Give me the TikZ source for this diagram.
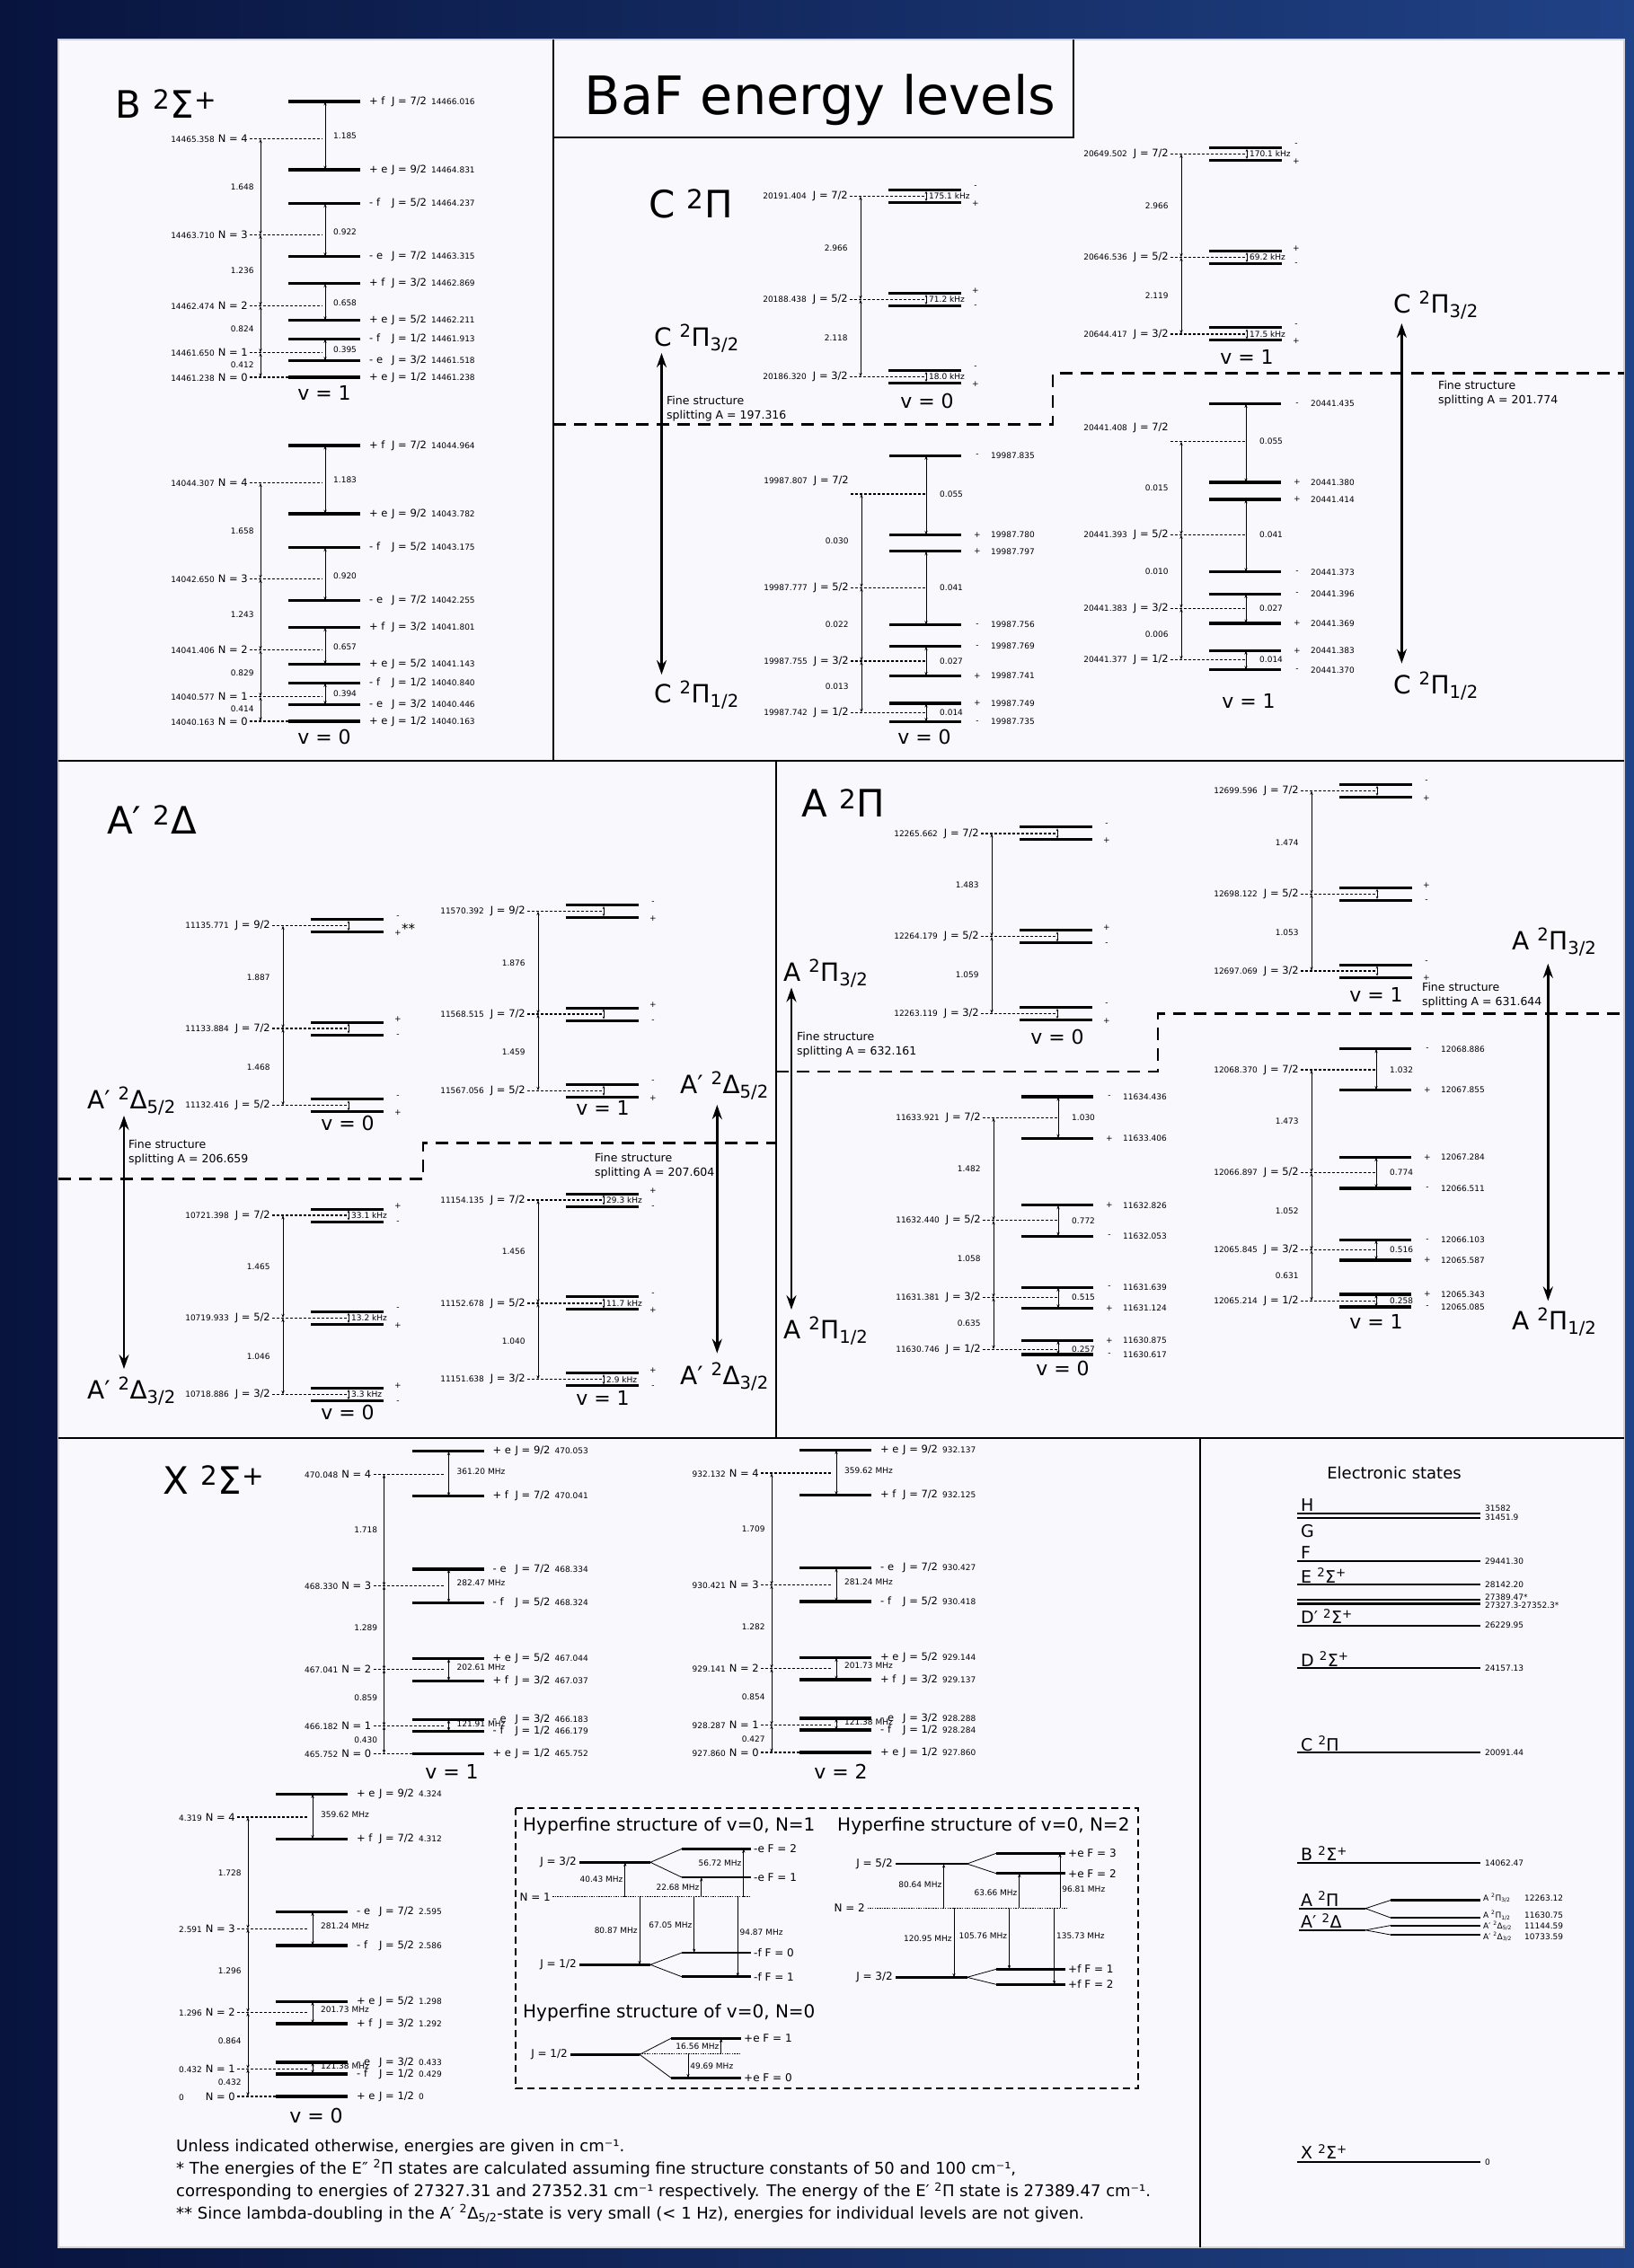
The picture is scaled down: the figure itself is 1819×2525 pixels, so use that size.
\documentclass[tikz,border=0pt]{standalone}
\usepackage{fontspec}
\setmainfont{DejaVu Sans}
\usetikzlibrary{arrows.meta,positioning}
\definecolor{pagebg}{RGB}{249,249,253}
\definecolor{nightblue}{RGB}{8,20,62}
\definecolor{duskblue}{RGB}{32,66,134}
\definecolor{rimgray}{RGB}{208,208,216}

\newcommand\numfont{\fontsize{9}{10}\selectfont}
\newcommand\supTwo{\textsuperscript{2}}

% 2Sigma ladder: #1 origin, #2 rungs, #3 N levels, #4 left splittings, #5 right splittings
\newcommand\sigmaladder[5]{%
  \begin{scope}[shift={#1}]
    \foreach \y/\pe/\jj/\en in {#2}{
      \draw[rung] (0,\y) -- (80,\y);
      \node[lab, anchor=west] at (90,\y) {\makebox[25pt][l]{\pe}J = \jj/2\hspace{5pt}{\numfont\en}};
    }
    \foreach \y/\en/\nn/\xe in {#3}{
      \draw[nline] (-43,\y) -- (\xe,\y);
      \node[lab, anchor=east] at (-45,\y) {{\numfont\en}\hspace{4pt}N = \nn};
    }
    \foreach \ya/\yb/\val in {#4}
      \draw[split] (-31,\ya) -- node[num, left=7pt] {\val} (-31,\yb);
    \foreach \ya/\yb/\yl/\val in {#5}{
      \draw[split] (41,\ya) -- (41,\yb);
      \node[num, anchor=west] at (50,\yl-3) {\val};
    }
  \end{scope}}

% Omega = 3/2 ladder, small lambda doubling: #1 x origin, #2 J levels, #3 splittings
\newcommand\piupper[3]{%
  \begin{scope}[shift={(#1,0)}]
    \foreach \y/\en/\jj/\hz/\ptop/\pbot in {#2}{
      \draw[drung] (0,\y-7) -- (81,\y-7) (0,\y+7) -- (81,\y+7);
      \draw[nline] (-43,\y) -- (40,\y);
      \draw[ldarrow] (42,\y-5.5) -- (42,\y+5.5);
      \node[num, anchor=west] at (45,\y) {\hz};
      \node[num] at (97,\y-10) {\ptop};
      \node[num] at (97,\y+8) {\pbot};
      \node[lab, anchor=east] at (-45,\y) {{\numfont\en}\hspace{7pt}J = \jj/2};
    }
    \foreach \ya/\yb/\val in {#3}
      \draw[split] (-31,\ya) -- node[num, left=14pt] {\val} (-31,\yb);
  \end{scope}}

% Omega = 1/2 ladder, large lambda doubling: #1 x origin, #2 rungs, #3 J levels, #4 left, #5 right
\newcommand\pilower[5]{%
  \begin{scope}[shift={(#1,0)}]
    \foreach \y/\pp/\en in {#2}{
      \draw[rung] (0,\y) -- (80,\y);
      \node[num] at (98,\y) {\pp};
      \node[num, anchor=west] at (113,\y) {\en};
    }
    \foreach \y/\en/\jj/\dl in {#3}{
      \draw[nline] (-43,\y) -- (40,\y);
      \node[lab, anchor=east] at (-45,\y-\dl) {{\numfont\en}\hspace{7pt}J = \jj/2};
    }
    \foreach \ya/\yb/\val in {#4}
      \draw[split] (-31,\ya) -- node[num, left=14pt] {\val} (-31,\yb);
    \foreach \ya/\yb/\yl/\val in {#5}{
      \draw[split] (41,\ya) -- (41,\yb);
      \node[num, anchor=west] at (56,\yl) {\val};
    }
  \end{scope}}

\begin{document}
\begin{tikzpicture}[x=1pt, y=-1pt,
  >={Stealth[length=4.5pt,width=3.2pt]},
  every node/.style={inner sep=0pt},
  lab/.style={font=\fontsize{11.5}{12}\selectfont},
  num/.style={font=\numfont},
  vlab/.style={font=\fontsize{22}{24}\selectfont},
  statetitle/.style={font=\fontsize{42}{44}\selectfont, anchor=base west},
  omega/.style={font=\fontsize{28}{30}\selectfont, anchor=base west},
  finetext/.style={font=\fontsize{12.5}{15.5}\selectfont, align=left, anchor=west},
  rung/.style={line width=3.3pt},
  drung/.style={line width=3pt},
  nline/.style={line width=1.3pt, dash pattern=on 3pt off 2pt},
  split/.style={<->, line width=0.8pt},
  ldarrow/.style={>={Stealth[length=3pt,width=2.6pt]}, <->, line width=0.7pt},
  bigarrow/.style={>={Stealth[length=16pt,width=11pt]}, <->, line width=2.4pt},
  rule/.style={line width=2.3pt},
  fsline/.style={line width=2.8pt, dash pattern=on 14pt off 9pt},
  estate/.style={line width=2.2pt},
  elab/.style={font=\fontsize{19}{20}\selectfont, anchor=base west},
  hfbox/.style={line width=1.8pt, dash pattern=on 8pt off 5pt},
  hftitle/.style={font=\fontsize{20}{21}\selectfont, anchor=west},
  hflab/.style={font=\fontsize{12}{13}\selectfont},
  hfrung/.style={line width=2.6pt},
  hfsplit/.style={line width=0.8pt},
  hfdot/.style={line width=1.5pt, dash pattern=on 1.5pt off 1.2pt},
  hfarrow/.style={->, line width=0.7pt},
  note/.style={font=\fontsize{18}{20}\selectfont, anchor=base west}
]
  \useasboundingbox (0,0) rectangle (1819,2525);

  % backdrop and panels
  \shade[left color=nightblue, right color=duskblue] (0,0) rectangle (1819,2525);
  \fill[pagebg] (65,44) rectangle (1808,2502);
  \draw[rimgray, line width=2.5pt] (65,44) rectangle (1808,2502);
  \draw[rule] (65,847) -- (1808,847) (616,44) -- (616,847)
              (616,153) -- (1195,153) -- (1195,44)
              (65,1601) -- (1808,1601) (864,847) -- (864,1601)
              (1336,1601) -- (1336,2502);
  \node[font=\fontsize{59}{60}\selectfont, anchor=base] (maintitle) at (913,127) {BaF energy levels};

  % B 2Sigma+
  \node[statetitle] (btitle) at (128,131) {B \supTwo Σ\textsuperscript{+}};
  \sigmaladder{(321,113)}
    {0/{+ f}/7/14466.016, 76/{+ e}/9/14464.831, 113.7/{- f}/5/14464.237, 172.7/{- e}/7/14463.315, 202.7/{+ f}/3/14462.869, 243.7/{+ e}/5/14462.211, 264.3/{- f}/1/14461.913, 288.7/{- e}/3/14461.518, 307/{+ e}/1/14461.238}
    {41.7/14465.358/4/38, 148.3/14463.710/3/38, 227.7/14462.474/2/38, 279.7/14461.650/1/38, 307/14461.238/0/0}
    {41.7/148.3/1.648, 148.3/227.7/1.236, 227.7/279.7/0.824, 279.7/307/0.412}
    {0/76/41.7/1.185, 113.7/172.7/148.3/0.922, 202.7/243.7/227.7/0.658, 264.3/288.7/279.7/0.395}
  \node[vlab] (bv1) at (361,437) {v = 1};
  \sigmaladder{(321,496)}
    {0/{+ f}/7/14044.964, 76/{+ e}/9/14043.782, 113.7/{- f}/5/14043.175, 172.7/{- e}/7/14042.255, 202.7/{+ f}/3/14041.801, 243.7/{+ e}/5/14041.143, 264.3/{- f}/1/14040.840, 288.7/{- e}/3/14040.446, 307/{+ e}/1/14040.163}
    {41.7/14044.307/4/38, 148.3/14042.650/3/38, 227.7/14041.406/2/38, 279.7/14040.577/1/38, 307/14040.163/0/0}
    {41.7/148.3/1.658, 148.3/227.7/1.243, 227.7/279.7/0.829, 279.7/307/0.414}
    {0/76/41.7/1.183, 113.7/172.7/148.3/0.920, 202.7/243.7/227.7/0.657, 264.3/288.7/279.7/0.394}
  \node[vlab] (bv0) at (361,820) {v = 0};

  % C 2Pi
  \node[statetitle] (ctitle) at (722,242) {C \supTwo Π};
  \piupper{989}
    {218.4/20191.404/7/{175.1 kHz}/-/+, 333.5/20188.438/5/{71.2 kHz}/+/-, 419.5/20186.320/3/{18.0 kHz}/-/+}
    {218.4/333.5/2.966, 333.5/419.5/2.118}
  \node[vlab] at (1032,446) {v = 0};
  \pilower{990}
    {507.4/-/19987.835, 595.4/+/19987.780, 613.8/+/19987.797, 695.6/-/19987.756, 719.7/-/19987.769, 752.4/+/19987.741, 783.1/+/19987.749, 803.6/-/19987.735}
    {549.9/19987.807/7/15, 654.2/19987.777/5/0, 736/19987.755/3/0, 793.3/19987.742/1/0}
    {549.9/654.2/0.030, 654.2/736/0.022, 736/793.3/0.013}
    {507.4/595.4/549.9/0.055, 613.8/695.6/654.2/0.041, 719.7/752.4/736/0.027, 783.1/803.6/793.3/0.014}
  \node[vlab] at (1029,820) {v = 0};
  \piupper{1346}
    {171.4/20649.502/7/{170.1 kHz}/-/+, 286.5/20646.536/5/{69.2 kHz}/+/-, 371.9/20644.417/3/{17.5 kHz}/-/+}
    {171.4/286.5/2.966, 286.5/371.9/2.119}
  \node[vlab] at (1388,397) {v = 1};
  \pilower{1346}
    {449.6/-/20441.435, 537/+/20441.380, 556/+/20441.414, 636.8/-/20441.373, 661.4/-/20441.396, 694/+/20441.369, 724.3/+/20441.383, 745.8/-/20441.370}
    {491.6/20441.408/7/15, 595.4/20441.393/5/0, 677.2/20441.383/3/0, 734.5/20441.377/1/0}
    {491.6/595.4/0.015, 595.4/677.2/0.010, 677.2/734.5/0.006}
    {449.6/537/491.6/0.055, 556/636.8/595.4/0.041, 661.4/694/677.2/0.027, 724.3/745.8/734.5/0.014}
  \node[vlab] at (1390,780) {v = 1};
  \node[omega] (c32l) at (728,385) {C \supTwo Π\textsubscript{3/2}};
  \node[omega] (c12l) at (728,782) {C \supTwo Π\textsubscript{1/2}};
  \draw[bigarrow] (736.5,393) -- (736.5,751);
  \node[finetext] at (742,455) {Fine structure\\splitting A = 197.316};
  \node[omega] (c32r) at (1551,348) {C \supTwo Π\textsubscript{3/2}};
  \node[omega] (c12r) at (1551,772) {C \supTwo Π\textsubscript{1/2}};
  \draw[bigarrow] (1560.4,360) -- (1560.4,738.6);
  \node[finetext] at (1601,438) {Fine structure\\splitting A = 201.774};
  \draw[fsline] (616,472.6) -- (1172,472.6) -- (1172,415.4) -- (1808,415.4);

  % A' 2Delta
  \node[statetitle] (adtitle) at (119,928) {A′ \supTwo Δ};
  \piupper{346}
    {1030.6/11135.771/9/{}/-/+, 1145/11133.884/7/{}/+/-, 1230.8/11132.416/5/{}/-/+}
    {1030.6/1145/1.887, 1145/1230.8/1.468}
  \node[font=\fontsize{15}{15}\selectfont, anchor=west] (dstar) at (447,1034) {**};
  \node[vlab] at (387,1250) {v = 0};
  \piupper{346}
    {1353/10721.398/7/{33.1 kHz}/+/-, 1467.3/10719.933/5/{13.2 kHz}/-/+, 1552.6/10718.886/3/{3.3 kHz}/+/-}
    {1353/1467.3/1.465, 1467.3/1552.6/1.046}
  \node[vlab] at (387,1572) {v = 0};
  \piupper{630}
    {1014.6/11570.392/9/{}/-/+, 1129/11568.515/7/{}/+/-, 1214.3/11567.056/5/{}/-/+}
    {1014.6/1129/1.876, 1129/1214.3/1.459}
  \node[vlab] at (671,1233) {v = 1};
  \piupper{630}
    {1336/11154.135/7/{29.3 kHz}/+/-, 1450.9/11152.678/5/{11.7 kHz}/-/+, 1535.7/11151.638/3/{2.9 kHz}/+/-}
    {1336/1450.9/1.456, 1450.9/1535.7/1.040}
  \node[vlab] at (671,1556) {v = 1};
  \node[omega] (d52l) at (97,1234) {A′ \supTwo Δ\textsubscript{5/2}};
  \node[omega] (d32l) at (97,1557) {A′ \supTwo Δ\textsubscript{3/2}};
  \draw[bigarrow] (138,1242) -- (138,1524);
  \node[finetext] at (143,1283) {Fine structure\\splitting A = 206.659};
  \node[omega] (d52r) at (757,1217) {A′ \supTwo Δ\textsubscript{5/2}};
  \node[omega] (d32r) at (757,1541) {A′ \supTwo Δ\textsubscript{3/2}};
  \draw[bigarrow] (798.3,1230) -- (798.3,1506.6);
  \node[finetext] at (662,1298) {Fine structure\\splitting A = 207.604};
  \draw[fsline] (65,1312.7) -- (471,1312.7) -- (471,1272.5) -- (864,1272.5);

  % A 2Pi
  \node[statetitle] (atitle) at (892,909.5) {A \supTwo Π};
  \piupper{1135}
    {927.9/12265.662/7/{}/-/+, 1042.8/12264.179/5/{}/+/-, 1128.5/12263.119/3/{}/-/+}
    {927.9/1042.8/1.483, 1042.8/1128.5/1.059}
  \node[vlab] at (1177,1154) {v = 0};
  \pilower{1137}
    {1221/-/11634.436, 1267.2/+/11633.406, 1341.8/+/11632.826, 1376.2/-/11632.053, 1433.4/-/11631.639, 1456.7/+/11631.124, 1492.5/+/11630.875, 1508/-/11630.617}
    {1244.4/11633.921/7/0, 1358.8/11632.440/5/0, 1444.5/11631.381/3/0, 1502.2/11630.746/1/0}
    {1244.4/1358.8/1.482, 1358.8/1444.5/1.058, 1444.5/1502.2/0.635}
    {1221/1267.2/1244.4/1.030, 1341.8/1376.2/1358.8/0.772, 1433.4/1456.7/1444.5/0.515, 1492.5/1508/1502.2/0.257}
  \node[vlab] at (1183,1523) {v = 0};
  \piupper{1491}
    {880.4/12699.596/7/{}/-/+, 995.3/12698.122/5/{}/+/-, 1081/12697.069/3/{}/-/+}
    {880.4/995.3/1.474, 995.3/1081/1.053}
  \node[vlab] at (1532,1107) {v = 1};
  \pilower{1491}
    {1167.8/-/12068.886, 1213.4/+/12067.855, 1288.5/+/12067.284, 1322.9/-/12066.511, 1380.6/-/12066.103, 1402.9/+/12065.587, 1441/+/12065.343, 1455/-/12065.085}
    {1191/12068.370/7/0, 1305.4/12066.897/5/0, 1391.7/12065.845/3/0, 1448.4/12065.214/1/0}
    {1191/1305.4/1.473, 1305.4/1391.7/1.052, 1391.7/1448.4/0.631}
    {1167.8/1213.4/1191/1.032, 1288.5/1322.9/1305.4/0.774, 1380.6/1402.9/1391.7/0.516, 1441/1455/1448.4/0.258}
  \node[vlab] at (1532,1471) {v = 1};
  \node[omega] (a32l) at (872,1092) {A \supTwo Π\textsubscript{3/2}};
  \node[omega] (a12l) at (872,1490) {A \supTwo Π\textsubscript{1/2}};
  \draw[bigarrow] (881,1099.5) -- (881,1458);
  \node[finetext] at (887,1163) {Fine structure\\splitting A = 632.161};
  \node[omega] (a32r) at (1683,1057) {A \supTwo Π\textsubscript{3/2}};
  \node[omega] (a12r) at (1683,1480) {A \supTwo Π\textsubscript{1/2}};
  \draw[bigarrow] (1723.3,1072.8) -- (1723.3,1448.4);
  \node[finetext] at (1583,1108) {Fine structure\\splitting A = 631.644};
  \draw[fsline] (864,1193) -- (1289,1193) -- (1289,1128.5) -- (1808,1128.5);

  % X 2Sigma+
  \node[statetitle] (xtitle) at (181,1663) {X \supTwo Σ\textsuperscript{+}};
  \sigmaladder{(458.5,1615.7)}
    {0/{+ e}/9/470.053, 50/{+ f}/7/470.041, 131.3/{- e}/7/468.334, 168.6/{- f}/5/468.324, 231/{+ e}/5/467.044, 255.6/{+ f}/3/467.037, 298.6/{- e}/3/466.183, 311.6/{- f}/1/466.179, 336.6/{+ e}/1/465.752}
    {25.6/470.048/4/35, 150/468.330/3/35, 243/467.041/2/35, 306/466.182/1/35, 336.6/465.752/0/0}
    {25.6/150/1.718, 150/243/1.289, 243/306/0.859, 306/336.6/0.430}
    {0/50/25.6/{361.20 MHz}, 131.3/168.6/150/{282.47 MHz}, 231/255.6/243/{202.61 MHz}, 298.6/311.6/306/{121.91 MHz}}
  \node[vlab] at (503,1972) {v = 1};
  \sigmaladder{(890,1614.5)}
    {0/{+ e}/9/932.137, 50/{+ f}/7/932.125, 131.3/{- e}/7/930.427, 168.6/{- f}/5/930.418, 231/{+ e}/5/929.144, 255.6/{+ f}/3/929.137, 298.6/{- e}/3/928.288, 311.6/{- f}/1/928.284, 336.6/{+ e}/1/927.860}
    {25.6/932.132/4/35, 150/930.421/3/35, 243/929.141/2/35, 306/928.287/1/35, 336.6/927.860/0/0}
    {25.6/150/1.709, 150/243/1.282, 243/306/0.854, 306/336.6/0.427}
    {0/50/25.6/{359.62 MHz}, 131.3/168.6/150/{281.24 MHz}, 231/255.6/243/{201.73 MHz}, 298.6/311.6/306/{121.38 MHz}}
  \node[vlab] at (936,1972) {v = 2};
  \sigmaladder{(307,1997.3)}
    {0/{+ e}/9/4.324, 50/{+ f}/7/4.312, 131.3/{- e}/7/2.595, 168.6/{- f}/5/2.586, 231/{+ e}/5/1.298, 255.6/{+ f}/3/1.292, 298.6/{- e}/3/0.433, 311.6/{- f}/1/0.429, 336.6/{+ e}/1/0}
    {25.6/4.319/4/35, 150/2.591/3/35, 243/1.296/2/35, 306/0.432/1/35, 336.6/{0\phantom{.319}}/0/0}
    {25.6/150/1.728, 150/243/1.296, 243/306/0.864, 306/336.6/0.432}
    {0/50/25.6/{359.62 MHz}, 131.3/168.6/150/{281.24 MHz}, 231/255.6/243/{201.73 MHz}, 298.6/311.6/306/{121.38 MHz}}
  \node[vlab] at (352,2355) {v = 0};

  % hyperfine structure of X, v = 0
  \draw[hfbox] (574,2013) rectangle (1267,2325);
  \node[hftitle] (hf1) at (582,2033) {Hyperfine structure of v=0, N=1};
  \node[hftitle] (hf2) at (932,2033) {Hyperfine structure of v=0, N=2};
  \node[hftitle] (hf0) at (582,2241) {Hyperfine structure of v=0, N=0};
  % N = 1
  \draw[hfrung] (645,2073.3) -- (724,2073.3) (759,2058.3) -- (836,2058.3) (759,2090) -- (836,2090)
                (645,2187.3) -- (724,2187.3) (759,2174) -- (836,2174) (759,2200.7) -- (836,2200.7);
  \draw[hfsplit] (724,2073.3) -- (759,2058.3) (724,2073.3) -- (759,2090)
                 (724,2187.3) -- (759,2174) (724,2187.3) -- (759,2200.7);
  \draw[hfdot] (615,2111.7) -- (836,2111.7);
  \node[hflab, anchor=east] at (642,2073.3) {J = 3/2};
  \node[hflab, anchor=east] at (642,2187.3) {J = 1/2};
  \node[hflab, anchor=east] at (613,2111.7) {N = 1};
  \foreach \y/\txt in {2058.3/{-e F = 2}, 2090/{-e F = 1}, 2174/{-f F = 0}, 2200.7/{-f F = 1}}
    \node[hflab, anchor=west] at (839,\y) {\txt};
  \foreach \x/\y/\txt/\p in {695.8/2073.3/40.43/0.5, 780.8/2090/22.68/0.5, 827.8/2058.3/56.72/0.7, 712/2187.3/80.87/0.5, 772.7/2174/67.05/0.5}
    \draw[hfarrow] (\x,2111.7) -- node[num, left=2pt, pos=\p] {\txt\ MHz} (\x,\y);
  \draw[hfarrow] (821.3,2111.7) -- node[num, right=2pt, pos=0.44] {94.87 MHz} (821.3,2200.7);
  % N = 2
  \draw[hfrung] (997,2075) -- (1076.5,2075) (1109,2063.3) -- (1186,2063.3) (1109,2085.7) -- (1186,2085.7)
                (997,2201.3) -- (1076.5,2201.3) (1109,2192.3) -- (1186,2192.3) (1109,2209.3) -- (1186,2209.3);
  \draw[hfsplit] (1076.5,2075) -- (1109,2063.3) (1076.5,2075) -- (1109,2085.7)
                 (1076.5,2201.3) -- (1109,2192.3) (1076.5,2201.3) -- (1109,2209.3);
  \draw[hfdot] (965.5,2124.3) -- (1188,2124.3);
  \node[hflab, anchor=east] at (994,2075) {J = 5/2};
  \node[hflab, anchor=east] at (994,2201.3) {J = 3/2};
  \node[hflab, anchor=east] at (963,2124.3) {N = 2};
  \foreach \y/\txt in {2063.3/{+e F = 3}, 2085.7/{+e F = 2}, 2192.3/{+f F = 1}, 2209.3/{+f F = 2}}
    \node[hflab, anchor=west] at (1189,\y) {\txt};
  \foreach \x/\y/\txt/\p in {1050.6/2075/80.64/0.53, 1134.8/2085.7/63.66/0.45, 1062/2201.3/120.95/0.44, 1123.5/2192.3/105.76/0.45}
    \draw[hfarrow] (\x,2124.3) -- node[num, left=2pt, pos=\p] {\txt\ MHz} (\x,\y);
  \foreach \x/\y/\txt/\p in {1180/2063.3/96.81/0.35, 1173.7/2209.3/135.73/0.36}
    \draw[hfarrow] (\x,2124.3) -- node[num, right=2pt, pos=\p] {\txt\ MHz} (\x,\y);
  % N = 0
  \draw[hfrung] (635,2287.3) -- (712,2287.3) (747,2269.3) -- (825,2269.3) (747,2313.3) -- (825,2313.3);
  \draw[hfsplit] (712,2287.3) -- (747,2269.3) (712,2287.3) -- (747,2313.3);
  \draw[hfdot] (712,2286.7) -- (825,2286.7);
  \node[hflab, anchor=east] at (632,2287.3) {J = 1/2};
  \node[hflab, anchor=west] at (828,2269.3) {+e F = 1};
  \node[hflab, anchor=west] at (828,2313.3) {+e F = 0};
  \draw[hfarrow] (802.7,2286.7) -- node[num, left=2pt] {16.56 MHz} (802.7,2269.3);
  \draw[hfarrow] (766,2286.7) -- node[num, right=2pt] {49.69 MHz} (766,2313.3);

  % notes
  \node[note] (note1) at (196,2395) {Unless indicated otherwise, energies are given in cm⁻¹.};
  \node[note] (note2) at (196,2420) {* The energies of the E″ \supTwo Π states are calculated assuming fine structure constants of 50 and 100 cm⁻¹,};
  \node[note] (note3) at (196,2445.5) {corresponding to energies of 27327.31 and 27352.31 cm⁻¹ respectively. The energy of the E′ \supTwo Π state is 27389.47 cm⁻¹.};
  \node[note] (note4) at (196,2470) {** Since lambda-doubling in the A′ \supTwo Δ\textsubscript{5/2}-state is very small (< 1 Hz), energies for individual levels are not given.};

  % electronic states
  \node[font=\fontsize{18}{20}\selectfont] (estitle) at (1552,1640) {Electronic states};
  \foreach \y in {1685,1690,1737.8,1764.2,1780.8,1785.4,1810,1857.2,1951.3,2073.6,2406.6}
    \draw[estate] (1444,\y) -- (1648,\y);
  \foreach \y/\txt in {1682/H, 1711/G, 1735/F, 1762/{E \supTwo Σ\textsuperscript{+}}, 1807.5/{D′ \supTwo Σ\textsuperscript{+}}, 1855/{D \supTwo Σ\textsuperscript{+}}, 1949/{C \supTwo Π}, 2071.5/{B \supTwo Σ\textsuperscript{+}}, 2122/{A \supTwo Π}, 2146.5/{A′ \supTwo Δ}, 2403.5/{X \supTwo Σ\textsuperscript{+}}}
    \node[elab] at (1448,\y) {\txt};
  \foreach \y/\txt in {1679/31582, 1689/31451.9, 1738/29441.30, 1764/28142.20, 1778/27389.47*, 1787.5/27327.3-27352.3*, 1809.5/26229.95, 1857.5/24157.13, 1951.5/20091.44, 2074/14062.47, 2407/0}
    \node[num, anchor=west] at (1653,\y) {\txt};
  \draw[estate] (1446,2124.7) -- (1520,2124.7) (1548,2115.5) -- (1648,2115.5) (1548,2135) -- (1648,2135)
                (1446,2148.8) -- (1520,2148.8) (1548,2143.6) -- (1648,2143.6) (1548,2154) -- (1648,2154);
  \draw[hfsplit] (1520,2124.7) -- (1548,2115.5) (1520,2124.7) -- (1548,2135)
                 (1520,2148.8) -- (1548,2143.6) (1520,2148.8) -- (1548,2154);
  \foreach \y/\st/\en in {2113/{A \supTwo Π\textsubscript{3/2}}/12263.12, 2132.5/{A \supTwo Π\textsubscript{1/2}}/11630.75, 2144/{A′ \supTwo Δ\textsubscript{5/2}}/11144.59, 2156/{A′ \supTwo Δ\textsubscript{3/2}}/10733.59}
    \node[num, anchor=west] at (1651,\y) {\makebox[46pt][l]{\st}\en};
\end{tikzpicture}
\end{document}
